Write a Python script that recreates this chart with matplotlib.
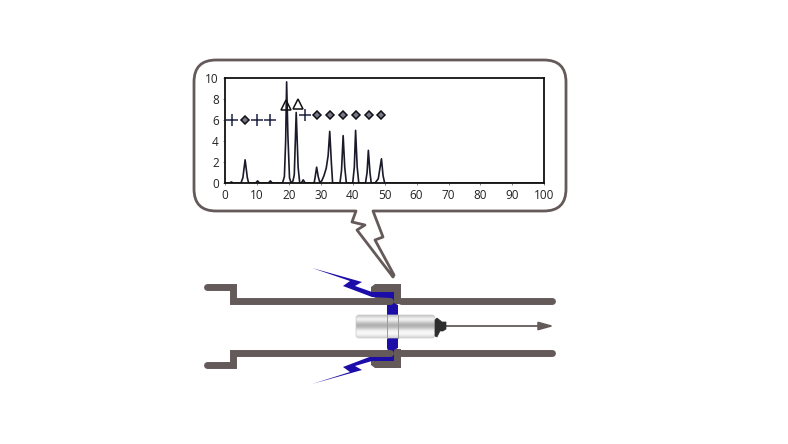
import matplotlib.pyplot as plt
import numpy as np
from matplotlib.patches import Polygon, PathPatch, FancyBboxPatch
from matplotlib.path import Path

plt.rcParams['font.family'] = ['Open Sans', 'DejaVu Sans']

# spectrum
trace_x = [0, 1.5, 2, 2.5, 5, 5.6, 6.3, 7, 7.4, 9.6, 10.2, 10.8, 13.6, 14.2, 14.8, 18, 18.6, 19.0, 19.3, 19.7, 20.2,
           20.7, 21.3, 21.7, 22.3, 22.9, 23.4, 23.9, 24.5, 25.1, 27.9, 28.2, 28.7, 29.2, 29.7, 30.3, 31, 31.7, 32.3,
           32.8, 33.3, 33.7, 36, 36.5, 37, 37.5, 38, 40, 40.5, 40.9, 41.4, 41.9, 44, 44.5, 44.9, 45.4, 45.8, 47,
           48, 49, 49.5, 50, 51, 100]
trace_y = [0, 0, 0.1, 0, 0, 0.5, 2.2, 0.5, 0, 0, 0.2, 0, 0, 0.2, 0, 0, 0.6, 4.0, 9.6, 4.5, 0.5,
           0, 0.2, 0.8, 6.7, 1.5, 0, 0, 0.3, 0, 0, 0.5, 1.5, 0.6, 0.05, 0.2, 0.7, 1.4, 2.6,
           4.9, 2.0, 0, 0, 1.2, 4.5, 1.5, 0, 0, 1.5, 5.0, 1.5, 0, 0, 1.0, 3.1, 1.0, 0, 0,
           0.4, 2.3, 0.7, 0, 0, 0]
plus_x = [2.1, 10.1, 14.1, 25]
plus_y = [6, 6, 6, 6.5]
diamond_x = [6.3, 28.9, 32.9, 37, 40.9, 45, 49]
diamond_y = [6, 6.5, 6.5, 6.5, 6.5, 6.5, 6.5]
triangle_x = [19, 23]
triangle_y = [7.4, 7.5]
x_ticks = list(range(0, 101, 10))
y_ticks = [0, 2, 4, 6, 8, 10]

# outlines of the schematic, in image pixels
tail_x = [373, 383, 375, 394, 393, 357, 365, 352, 356]
tail_y = [211, 237, 240, 275, 277, 230, 225, 222, 211]
step_top_left = ([207, 233, 233, 390], [287, 287, 300.5, 300.5])
pipe_top_right = ([401, 552], [300.5, 300.5])
step_bot_left = ([207, 233, 233, 390], [365, 365, 352.5, 352.5])
pipe_bot_right = ([401, 552], [352.5, 352.5])
collar_top_x = [371, 371, 375, 401, 401, 390, 371]
collar_top_y = [296, 287, 284, 284, 304, 304, 296]
collar_bot_x = [371, 371, 375, 401, 401, 390, 371]
collar_bot_y = [357, 365, 368, 368, 349, 349, 357]
bolt_top_x = [312, 362, 355, 372, 394, 394, 398, 398, 387, 387, 390, 372, 343, 350]
bolt_top_y = [268, 282, 286, 292, 292, 303, 305, 340, 340, 305, 298, 297, 286, 281]
bolt_bot_x = [312, 362, 355, 372, 394, 394, 398, 398, 387, 387, 390, 372, 343, 350]
bolt_bot_y = [384, 370, 366, 361, 361, 350, 348, 313, 313, 348, 355, 356, 367, 372]
body_shades = [0.78, 0.92, 0.95, 0.85, 0.72, 0.68, 0.74, 0.88, 0.96, 0.98, 0.93, 0.84]
nose_x = [435, 437, 442, 446, 446, 443, 440, 437, 435]
nose_y = [320, 318, 322, 322, 329, 331, 331, 337, 336]

GREY = '#655a5a'
BLUE = '#1c0ca8'

fig = plt.figure(figsize=(7.88, 4.44), dpi=100, facecolor='white')

# whole picture in pixel coordinates for the drawing
bg = fig.add_axes([0, 0, 1, 1])
bg.axis('off')

# rounded bubble, corners as quadratic curves
verts = [(216, 60), (544, 60), (566, 60), (566, 82), (566, 189), (566, 211), (544, 211)]
codes = [Path.MOVETO, Path.LINETO, Path.CURVE3, Path.CURVE3, Path.LINETO, Path.CURVE3, Path.CURVE3]
for px, py in zip(tail_x, tail_y):
    verts.append((px, py))
    codes.append(Path.LINETO)
verts += [(216, 211), (194, 211), (194, 189), (194, 82), (194, 60), (216, 60)]
codes += [Path.LINETO, Path.CURVE3, Path.CURVE3, Path.LINETO, Path.CURVE3, Path.CURVE3]
bg.add_patch(PathPatch(Path(verts, codes), fc='white', ec=GREY, lw=2.0, joinstyle='round'))

# collars behind the bolts
bg.add_patch(Polygon(list(zip(collar_top_x, collar_top_y)), closed=True, fc=GREY, ec='none', zorder=2))
bg.add_patch(Polygon(list(zip(collar_bot_x, collar_bot_y)), closed=True, fc=GREY, ec='none', zorder=2))

# blue bolts
bg.add_patch(Polygon(list(zip(bolt_top_x, bolt_top_y)), closed=True, fc=BLUE, ec='none', zorder=3))
bg.add_patch(Polygon(list(zip(bolt_bot_x, bolt_bot_y)), closed=True, fc=BLUE, ec='none', zorder=3))

# pipe walls
for xs, ys in [step_top_left, step_bot_left]:
    bg.plot(xs, ys, color=GREY, lw=5, solid_capstyle='round', solid_joinstyle='miter', zorder=4)
for xs, ys in [pipe_top_right, pipe_bot_right]:
    bg.plot(xs, ys, color=GREY, lw=5, solid_capstyle='round', zorder=2)

# sensor body with rounded ends
img = bg.imshow(np.array(body_shades).reshape(-1, 1), cmap='gray', vmin=0, vmax=1, aspect='auto',
                extent=(356, 435, 338, 315), interpolation='bicubic', zorder=5)
outline = FancyBboxPatch((358, 317), 75, 19, boxstyle='round,pad=2,rounding_size=3',
                         fc='none', ec='#c9c9c9', lw=0.5, zorder=6, transform=bg.transData)
bg.add_patch(outline)
img.set_clip_path(outline)
bg.plot([387, 387], [315, 338], color='#9a9a9a', lw=0.7, zorder=6)
bg.plot([398, 398], [315, 338], color='#9a9a9a', lw=0.7, zorder=6)
bg.add_patch(Polygon(list(zip(nose_x, nose_y)), closed=True, fc='#2e2e2e', ec='#2e2e2e', lw=0.5,
                     joinstyle='round', zorder=6))

# probe arrow
bg.annotate('', xy=(554, 326), xytext=(446, 326),
            arrowprops=dict(arrowstyle='-|>,head_length=0.9,head_width=0.25', color=GREY, lw=1.3,
                            shrinkA=0, shrinkB=0), zorder=5)
bg.set_xlim(0, 788)
bg.set_ylim(444, 0)

# chart inside the bubble
ax = fig.add_axes([225 / 788, 1 - 183 / 444, 319.3 / 788, 105.3 / 444])
ax.set_facecolor('white')
ax.plot(trace_x, trace_y, color='#1a1a2a', lw=1.2)
ax.plot(plus_x, plus_y, linestyle='none', marker='+', ms=8.5, mew=1.1, color='#1c2340')
ax.plot(diamond_x, diamond_y, linestyle='none', marker='D', ms=4.2, mew=1.1, mec='#111111', mfc='#77778a')
ax.plot(triangle_x, triangle_y, linestyle='none', marker='^', ms=7.5, mew=1.1, mec='#111111', mfc='none')
ax.set_xlim(0, 100)
ax.set_ylim(0, 10)
ax.set_xticks(x_ticks)
ax.set_yticks(y_ticks)
ax.tick_params(labelsize=8.5, length=1.5, width=0.4, pad=3, colors='#222222')
for side in ax.spines.values():
    side.set_linewidth(1.3)
    side.set_color('#111111')

plt.savefig('out.png', dpi=100)
